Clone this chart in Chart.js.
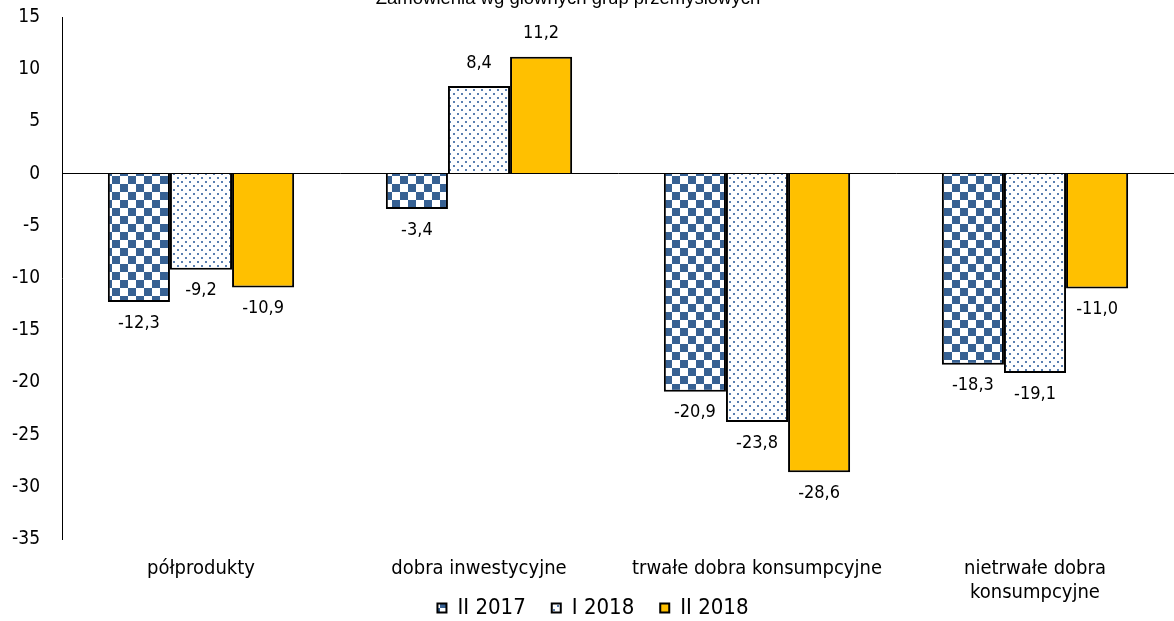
<!DOCTYPE html>
<html>
<head>
<meta charset="utf-8">
<script src="https://cdn.jsdelivr.net/npm/chart.js@4/dist/chart.umd.min.js"></script>
<style>
  html, body { margin: 0; padding: 0; background: #fff; }
  #wrap { position: relative; width: 1174px; height: 621px; }
</style>
</head>
<body>
<div id="wrap"><canvas id="c" width="1174" height="621"></canvas></div>
<script>
// Orders by main industrial groupings, % change
const chartTitle = 'Zamówienia wg głównych grup przemysłowych';
const categories = ['półprodukty', 'dobra inwestycyjne', 'trwałe dobra konsumpcyjne', ['nietrwałe dobra', 'konsumpcyjne']];
const seriesNames = ['II 2017', 'I 2018', 'II 2018'];
const valuesFeb2017 = [-12.3, -3.4, -20.9, -18.3];
const valuesJan2018 = [-9.2, 8.4, -23.8, -19.1];
const valuesFeb2018 = [-10.9, 11.2, -28.6, -11.0];
const yMin = -35, yMax = 15, yStep = 5;

const BLUE = '#376193';
const GOLD = '#FFC000';
const labelFont = '"DejaVu Sans Condensed", "DejaVu Sans", sans-serif';

function checkerPattern() {
  const t = document.createElement('canvas');
  t.width = 16; t.height = 16;
  const g = t.getContext('2d');
  g.fillStyle = '#fff'; g.fillRect(0, 0, 16, 16);
  g.fillStyle = BLUE;
  g.fillRect(0, 0, 8, 8);
  g.fillRect(8, 8, 8, 8);
  return g.createPattern(t, 'repeat');
}
function dotPattern() {
  const t = document.createElement('canvas');
  t.width = 8; t.height = 8;
  const g = t.getContext('2d');
  g.fillStyle = '#fff'; g.fillRect(0, 0, 8, 8);
  g.fillStyle = '#5a7fb0';
  g.fillRect(1, 1, 2, 2);
  g.fillRect(5, 5, 2, 2);
  return g.createPattern(t, 'repeat');
}

const fmt = v => v.toFixed(1).replace('.', ',');

// Title sits partly above the canvas edge
const titlePlugin = {
  id: 'topTitle',
  afterDraw(chart) {
    const ctx = chart.ctx;
    ctx.save();
    ctx.font = '18.5px "Liberation Sans", Arial, sans-serif';
    ctx.fillStyle = '#000';
    ctx.textAlign = 'center';
    ctx.textBaseline = 'alphabetic';
    ctx.fillText(chartTitle, 568, 3.5);
    ctx.restore();
  }
};

// Category names under the plot, top-aligned and allowed to sit beside the legend
const categoryLabels = {
  id: 'categoryLabels',
  afterDraw(chart) {
    const ctx = chart.ctx;
    const xs = chart.scales.x;
    const top = chart.chartArea.bottom + 30;
    ctx.save();
    ctx.font = '20px ' + labelFont;
    ctx.fillStyle = '#000';
    ctx.textAlign = 'center';
    ctx.textBaseline = 'middle';
    categories.forEach((c, i) => {
      const lines = Array.isArray(c) ? c : [c];
      const x = xs.getPixelForTick(i);
      lines.forEach((ln, k) => ctx.fillText(ln, x, top + k * 24));
    });
    ctx.restore();
  }
};

// Value labels at the end of each bar
const valueLabels = {
  id: 'valueLabels',
  afterDatasetsDraw(chart) {
    const ctx = chart.ctx;
    ctx.save();
    ctx.font = '18px ' + labelFont;
    ctx.fillStyle = '#000';
    ctx.textAlign = 'center';
    ctx.textBaseline = 'middle';
    chart.data.datasets.forEach((ds, i) => {
      chart.getDatasetMeta(i).data.forEach((bar, j) => {
        const v = ds.data[j];
        const y = v < 0 ? bar.y + 21 : bar.y - 23;
        ctx.fillText(fmt(v), bar.x, y);
      });
    });
    ctx.restore();
  }
};

new Chart(document.getElementById('c'), {
  type: 'bar',
  data: {
    labels: categories,
    datasets: [
      { label: seriesNames[0], data: valuesFeb2017, backgroundColor: checkerPattern(), borderColor: '#000', borderWidth: 2 },
      { label: seriesNames[1], data: valuesJan2018, backgroundColor: dotPattern(), borderColor: '#000', borderWidth: 2 },
      { label: seriesNames[2], data: valuesFeb2018, backgroundColor: GOLD, borderColor: '#000', borderWidth: 2 }
    ]
  },
  options: {
    responsive: false,
    animation: false,
    devicePixelRatio: 1,
    layout: { padding: { top: 0, right: 0, left: 12, bottom: -8 } },
    datasets: { bar: { categoryPercentage: 0.67, barPercentage: 1.0 } },
    plugins: {
      title: { display: false },
      tooltip: { enabled: false },
      legend: {
        position: 'bottom',
        labels: {
          boxWidth: 9, boxHeight: 9, padding: 26,
          color: '#000',
          font: { family: labelFont, size: 22 }
        }
      }
    },
    scales: {
      x: {
        grid: { display: false },
        border: { display: false },
        ticks: { display: false },
        afterFit: s => { s.height = 32; }
      },
      y: {
        min: yMin, max: yMax,
        ticks: { stepSize: yStep, color: '#000', font: { family: labelFont, size: 19 }, padding: 22 },
        grid: {
          drawTicks: false,
          color: ctx => (ctx.tick && ctx.tick.value === 0 ? '#000' : 'rgba(0,0,0,0)'),
          lineWidth: 1
        },
        border: { display: true, color: '#000', width: 1 },
        afterFit: s => { s.width = 50; s.paddingTop = 17; s.paddingBottom = 0; }
      }
    }
  },
  plugins: [titlePlugin, valueLabels, categoryLabels]
});
</script>
</body>
</html>
